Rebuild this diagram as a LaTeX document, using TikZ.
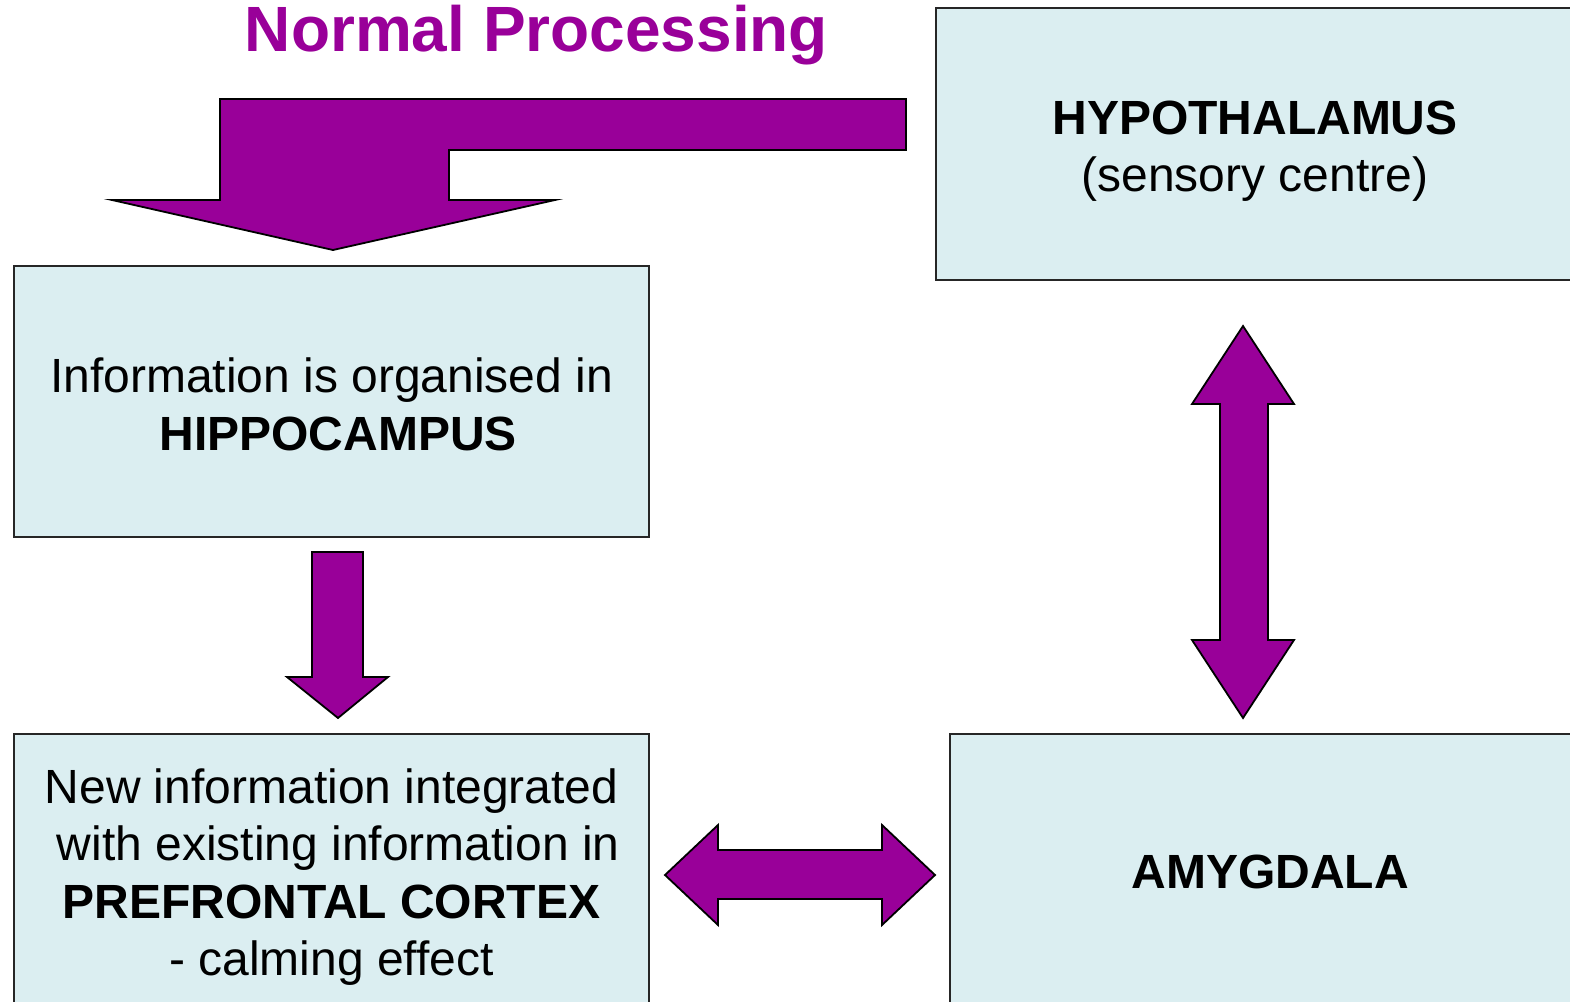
\documentclass[tikz,border=0pt]{standalone}
\usepackage{fontspec}
\setmainfont{Liberation Sans}
\definecolor{boxfill}{RGB}{219,238,241}
\definecolor{arrowpurple}{RGB}{153,0,153}
\newcommand{\leadspace}{\hspace*{0.278em}}
\begin{document}
\begin{tikzpicture}[x=1pt,y=-1pt,
  region/.style={draw=black!85, line width=1.8pt, fill=boxfill, inner sep=0pt},
  regiontext/.style={align=center, inner sep=0pt, font=\fontsize{48}{57.5}\selectfont},
  blockarrow/.style={draw=black, line width=1.8pt, fill=arrowpurple, line join=miter}]
\useasboundingbox (0,0) rectangle (1570,1001);
\clip (0,0) rectangle (1570,1001);

% title
\node[anchor=base, text=arrowpurple, font=\fontsize{64}{70}\selectfont\bfseries]
  (title) at (536.5,51) {Normal Processing};

% the four regions, each with its centred caption
\node[region, minimum width=635pt, minimum height=271pt] (hippo) at (331.5,401.5) {};
\node[regiontext] (hippotext) at ([yshift=-3pt]hippo.center)
  {Information is organised in\\\leadspace\textbf{HIPPOCAMPUS}};
\node[region, minimum width=640pt, minimum height=272pt] (hypo) at (1256,144) {};
\node[regiontext] (hypotext) at ([yshift=-7pt,xshift=-1pt]hypo.center)
  {\textbf{HYPOTHALAMUS}\\(sensory centre)};
\node[region, minimum width=635pt, minimum height=276pt] (pfc) at (331.5,872) {};
\node[regiontext] (pfctext) at ([yshift=-5pt]pfc.center)
  {New information integrated\\\leadspace with existing information in\\\textbf{PREFRONTAL CORTEX}\\- calming effect};
\node[region, minimum width=636pt, minimum height=276pt] (amyg) at (1268,872) {};
\node[regiontext] (amygtext) at ([xshift=2pt]amyg.center) {\textbf{AMYGDALA}};

% bent arrow from the hypothalamus down to the hippocampus
\draw[blockarrow] (906,99) -- (220,99) -- (220,200) -- (112,200) -- (333,250)
  -- (555,200) -- (449,200) -- (449,150) -- (906,150) -- cycle;

% hippocampus to prefrontal cortex
\draw[blockarrow] (312,552) -- (363,552) -- (363,677) -- (388,677) -- (338,718)
  -- (287,677) -- (312,677) -- cycle;

% prefrontal cortex <-> amygdala
\draw[blockarrow] (665,875) -- (718,825) -- (718,850) -- (882,850) -- (882,825)
  -- (935,875) -- (882,925) -- (882,899) -- (718,899) -- (718,925) -- cycle;

% hypothalamus <-> amygdala
\draw[blockarrow] (1243,326) -- (1294,404) -- (1268,404) -- (1268,640) -- (1294,640)
  -- (1243,718) -- (1192,640) -- (1220,640) -- (1220,404) -- (1192,404) -- cycle;
\end{tikzpicture}
\end{document}
